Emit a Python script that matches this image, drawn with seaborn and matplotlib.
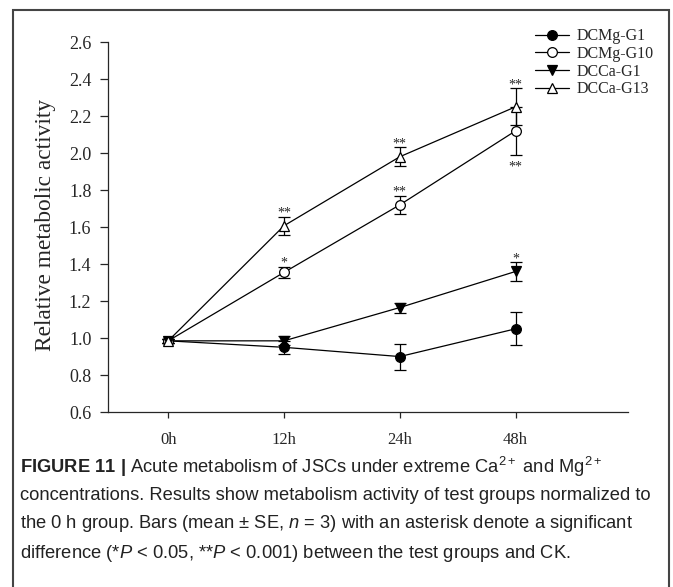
import matplotlib
matplotlib.use("Agg")
import numpy as np
import pandas as pd
import matplotlib.pyplot as plt
from matplotlib.patches import Rectangle
import seaborn as sns

# data
times = ["0h", "12h", "24h", "48h"]
groups = ["DCMg-G1", "DCMg-G10", "DCCa-G1", "DCCa-G13"]
dcmg_g1 = [0.985, 0.95, 0.90, 1.05]
dcmg_g1_se = [0.01, 0.035, 0.07, 0.09]
dcmg_g10 = [0.985, 1.355, 1.72, 2.12]
dcmg_g10_se = [0.01, 0.03, 0.05, 0.13]
dcca_g1 = [0.985, 0.985, 1.165, 1.36]
dcca_g1_se = [0.01, 0.025, 0.027, 0.05]
dcca_g13 = [0.985, 1.607, 1.98, 2.25]
dcca_g13_se = [0.01, 0.05, 0.05, 0.10]

# significance marks: (group, time, text, side)
star_group = ["DCCa-G13", "DCMg-G10", "DCCa-G13", "DCMg-G10", "DCCa-G13", "DCMg-G10", "DCCa-G1"]
star_time = ["12h", "12h", "24h", "24h", "48h", "48h", "48h"]
star_text = ["**", "*", "**", "**", "**", "**", "*"]
star_side = ["up", "up", "up", "up", "up", "down", "up"]

means = {"DCMg-G1": dcmg_g1, "DCMg-G10": dcmg_g10, "DCCa-G1": dcca_g1, "DCCa-G13": dcca_g13}
errs = {"DCMg-G1": dcmg_g1_se, "DCMg-G10": dcmg_g10_se, "DCCa-G1": dcca_g1_se, "DCCa-G13": dcca_g13_se}
mk = {"DCMg-G1": "o", "DCMg-G10": "o", "DCCa-G1": "v", "DCCa-G13": "^"}
fc = {"DCMg-G1": "black", "DCMg-G10": "white", "DCCa-G1": "black", "DCCa-G13": "white"}

rows = []
for g in groups:
    for i, t in enumerate(times):
        rows.append({"group": g, "time": t, "pos": i, "value": means[g][i], "se": errs[g][i]})
df = pd.DataFrame(rows)

sns.set_style("ticks")
plt.rcParams["font.family"] = ["Liberation Serif", "DejaVu Serif"]
plt.rcParams["mathtext.fontset"] = "custom"
plt.rcParams["mathtext.rm"] = "Liberation Sans"
plt.rcParams["mathtext.it"] = "Liberation Sans:italic"
plt.rcParams["mathtext.bf"] = "Liberation Sans:bold"

fig = plt.figure(figsize=(6.73, 5.87), dpi=100)
ax = fig.add_axes([0.1605, 0.298, 0.7725, 0.6304])

for g in groups:
    d = df[df["group"] == g]
    ax.errorbar(d["pos"], d["value"], yerr=d["se"], fmt="none", ecolor="black",
                elinewidth=0.9, capsize=4.5, capthick=0.9, zorder=2)
    sns.lineplot(data=d, x="pos", y="value", ax=ax, color="black", linewidth=0.9,
                 marker=mk[g], markersize=7, markerfacecolor=fc[g],
                 markeredgecolor="black", markeredgewidth=0.9, label=g, zorder=3)

for g, t, s, side in zip(star_group, star_time, star_text, star_side):
    i = times.index(t)
    if side == "up":
        y = means[g][i] + errs[g][i]
        off = 0
    else:
        y = means[g][i] - errs[g][i]
        off = -11
    ax.annotate(s, (i, y), xytext=(0, off), textcoords="offset points",
                ha="center", va="baseline", fontsize=10)

ax.set_xlim(-0.52, 3.97)
ax.set_ylim(0.6, 2.6)
ax.set_xticks(range(len(times)))
ax.set_xticklabels(times)
ax.set_yticks(np.arange(0.6, 2.61, 0.2))
ax.set_yticklabels([f"{v:.1f}" for v in np.arange(0.6, 2.61, 0.2)])
ax.tick_params(axis="x", length=4, width=0.9, pad=10, labelsize=12)
ax.tick_params(axis="y", length=6, width=0.9, pad=6, labelsize=13)
ax.set_xlabel("")
ax.set_ylabel("Relative metabolic activity", fontsize=16.8)
ax.yaxis.set_label_coords(-0.1, 0.505)
sns.despine(ax=ax)
for sp in ["left", "bottom"]:
    ax.spines[sp].set_linewidth(0.9)

ax.legend(loc="upper left", bbox_to_anchor=(0.786, 0.9625), bbox_transform=fig.transFigure,
          frameon=False, fontsize=11.5, handlelength=2.1, handletextpad=0.5,
          labelspacing=0.1, borderaxespad=0)

# caption
cap = [r"$\mathbf{FIGURE\ 11\ |}$ Acute metabolism of JSCs under extreme Ca$^{2+}$ and Mg$^{2+}$",
       "concentrations. Results show metabolism activity of test groups normalized to",
       r"the 0 h group. Bars (mean $\pm$ SE, $n$ = 3) with an asterisk denote a significant",
       r"difference (*$P$ < 0.05, **$P$ < 0.001) between the test groups and CK."]
cap_y = [467, 496, 524, 553]
for line, yy in zip(cap, cap_y):
    fig.text(20 / 673, 1 - yy / 587, line, ha="left", va="center", fontsize=13.2,
             family="Liberation Sans", color="#222222")

fig.patches.append(Rectangle((13 / 673, -0.02), 656 / 673, 0.983 + 0.02,
                             transform=fig.transFigure, fill=False,
                             edgecolor="#444444", linewidth=1.5))

fig.savefig("out.png", dpi=100)
